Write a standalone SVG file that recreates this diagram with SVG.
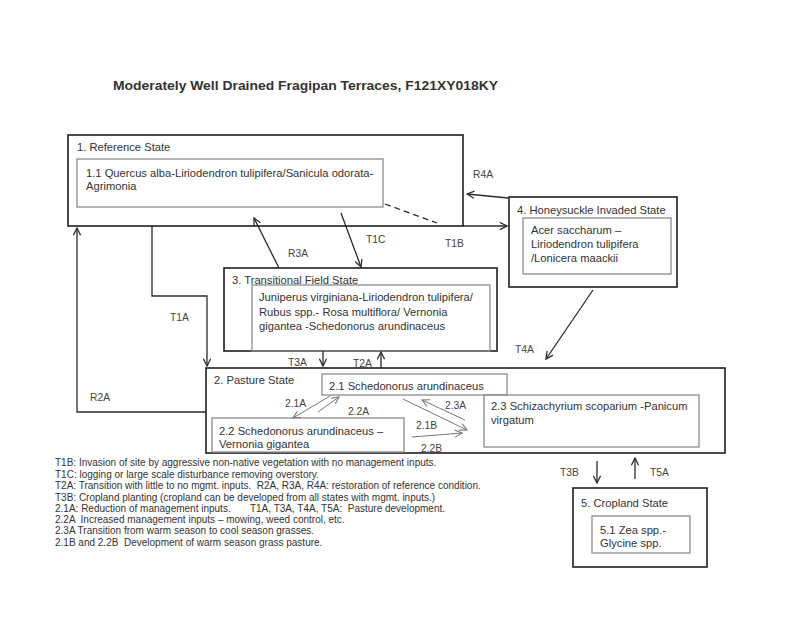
<svg xmlns="http://www.w3.org/2000/svg" width="800" height="617" viewBox="0 0 800 617">
<style>
text{font-family:"Liberation Sans",Arial,sans-serif;fill:#333;}
.t{font-size:11.2px;}
.l{font-size:10.3px;fill:#444;}
.g{font-size:10px;fill:#333;}
.o{fill:none;stroke:#2b2b2b;stroke-width:1.7;}
.i{fill:none;stroke:#8c8c8c;stroke-width:1.3;}
.c{fill:none;stroke:#2b2b2b;stroke-width:1.3;}
.s{fill:none;stroke:#777;stroke-width:1;}
</style>
<defs>
<marker id="a" viewBox="0 0 10 10" refX="9" refY="5" markerWidth="9" markerHeight="9" markerUnits="userSpaceOnUse" orient="auto">
<path d="M1,1 L9,5 L1,9" fill="none" stroke="#2b2b2b" stroke-width="1.4"/>
</marker>
<marker id="b" viewBox="0 0 10 10" refX="9" refY="5" markerWidth="9" markerHeight="9" markerUnits="userSpaceOnUse" orient="auto">
<path d="M1,1 L9,5 L1,9" fill="none" stroke="#777" stroke-width="1.2"/>
</marker>
</defs>
<rect width="800" height="617" fill="#fff"/>
<text x="113" y="90" font-size="13.5" font-weight="bold" textLength="385" lengthAdjust="spacingAndGlyphs">Moderately Well Drained Fragipan Terraces, F121XY018KY</text>

<g id="reference-state">
<rect class="o" x="68" y="135" width="395" height="91"/>
<text class="t" x="77" y="151">1. Reference State</text>
<rect class="i" x="77" y="159" width="306" height="48"/>
<text class="t" x="86" y="177">1.1 Quercus alba-Liriodendron tulipifera/Sanicula odorata-</text>
<text class="t" x="86" y="190">Agrimonia</text>
</g>

<g id="honeysuckle-state">
<rect class="o" x="509" y="197" width="168" height="90"/>
<text class="t" x="517" y="214">4. Honeysuckle Invaded State</text>
<rect class="i" x="523" y="218" width="148" height="56"/>
<text class="t" x="531" y="234">Acer saccharum –</text>
<text class="t" x="531" y="248">Liriodendron tulipifera</text>
<text class="t" x="531" y="262">/Lonicera maackii</text>
</g>

<g id="transitional-state">
<rect class="o" x="224" y="268" width="273" height="83"/>
<text class="t" x="232" y="284">3. Transitional Field State</text>
<rect class="i" x="252" y="285" width="238" height="66"/>
<text class="t" x="259" y="301">Juniperus virginiana-Liriodendron tulipifera/</text>
<text class="t" x="259" y="316">Rubus spp.- Rosa multiflora/ Vernonia</text>
<text class="t" x="259" y="330">gigantea -Schedonorus arundinaceus</text>
</g>

<g id="pasture-state">
<rect class="o" x="206" y="368" width="519" height="85"/>
<text class="t" x="214" y="384">2. Pasture State</text>
<g id="phase-2-1">
<rect class="i" x="322" y="374" width="185" height="21"/>
<text class="t" x="329" y="390">2.1 Schedonorus arundinaceus</text>
</g>
<g id="phase-2-2">
<rect class="i" x="212" y="418" width="192" height="34"/>
<text class="t" x="219" y="435">2.2 Schedonorus arundinaceus –</text>
<text class="t" x="219" y="448">Vernonia gigantea</text>
</g>
<g id="phase-2-3">
<rect class="i" x="484" y="395" width="215" height="52"/>
<text class="t" x="491" y="410">2.3 Schizachyrium scoparium -Panicum</text>
<text class="t" x="491" y="424">virgatum</text>
</g>
</g>

<g id="cropland-state">
<rect class="o" x="573" y="488" width="134" height="79"/>
<text class="t" x="581" y="507">5. Cropland State</text>
<rect class="i" x="592" y="516" width="98" height="37"/>
<text class="t" x="600" y="534">5.1 Zea spp.-</text>
<text class="t" x="600" y="547">Glycine spp.</text>
</g>

<g id="connectors">
<line x1="385" y1="204" x2="437" y2="223" stroke="#2b2b2b" stroke-width="1.3" stroke-dasharray="6,4"/>
<line class="c" x1="463" y1="226" x2="507" y2="226" marker-end="url(#a)"/>
<line class="c" x1="508" y1="198" x2="467" y2="194" marker-end="url(#a)"/>
<line class="c" x1="279" y1="268" x2="254" y2="218" marker-end="url(#a)"/>
<line class="c" x1="341" y1="213" x2="361" y2="267" marker-end="url(#a)"/>
<polyline class="c" points="152,226 152,296 207,296 207,366" marker-end="url(#a)"/>
<polyline class="c" points="206,412 77,412 77,228" marker-end="url(#a)"/>
<line class="c" x1="323" y1="351" x2="323" y2="366" marker-end="url(#a)"/>
<line class="c" x1="381" y1="368" x2="381" y2="352" marker-end="url(#a)"/>
<line class="c" x1="593" y1="290" x2="546" y2="359" marker-end="url(#a)"/>
<line class="c" x1="597" y1="461" x2="597" y2="483" marker-end="url(#a)"/>
<line class="c" x1="635" y1="479" x2="635" y2="458" marker-end="url(#a)"/>
<line class="s" x1="330" y1="396" x2="293" y2="418" marker-end="url(#b)"/>
<line class="s" x1="318" y1="412" x2="339" y2="397" marker-end="url(#b)"/>
<line class="s" x1="465" y1="420" x2="422" y2="400" marker-end="url(#b)"/>
<line class="s" x1="403" y1="399" x2="467" y2="430" marker-end="url(#b)"/>
<line class="s" x1="412" y1="437" x2="462" y2="433" marker-end="url(#b)"/>
<text class="l" x="473" y="178">R4A</text>
<text class="l" x="445" y="247">T1B</text>
<text class="l" x="288" y="257">R3A</text>
<text class="l" x="366" y="243">T1C</text>
<text class="l" x="170" y="321">T1A</text>
<text class="l" x="90" y="401">R2A</text>
<text class="l" x="288" y="366">T3A</text>
<text class="l" x="353" y="367">T2A</text>
<text class="l" x="515" y="353">T4A</text>
<text class="l" x="560" y="476">T3B</text>
<text class="l" x="650" y="476">T5A</text>
<text class="l" x="285" y="407">2.1A</text>
<text class="l" x="348" y="415">2.2A</text>
<text class="l" x="445" y="409">2.3A</text>
<text class="l" x="416" y="429">2.1B</text>
<text class="l" x="421" y="452">2.2B</text>
</g>

<g id="legend">
<text class="g" x="55" y="466">T1B: Invasion of site by aggressive non-native vegetation with no management inputs.</text>
<text class="g" x="55" y="478">T1C: logging or large scale disturbance removing overstory.</text>
<text class="g" x="55" y="489" xml:space="preserve">T2A: Transition with little to no mgmt. inputs.  R2A, R3A, R4A: restoration of reference condition.</text>
<text class="g" x="55" y="501">T3B: Cropland planting (cropland can be developed from all states with mgmt. inputs.)</text>
<text class="g" x="55" y="512" xml:space="preserve">2.1A: Reduction of management inputs.       T1A, T3A, T4A, T5A:  Pasture development.</text>
<text class="g" x="55" y="523" xml:space="preserve">2.2A  Increased management inputs – mowing, weed control, etc.</text>
<text class="g" x="55" y="534">2.3A Transition from warm season to cool season grasses.</text>
<text class="g" x="55" y="546" xml:space="preserve">2.1B and 2.2B  Development of warm season grass pasture.</text>
</g>
</svg>
